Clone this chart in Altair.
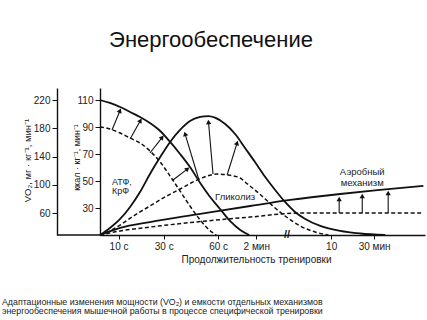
import math
import altair as alt
import pandas as pd

# ---------------- data (x: schematic time position, y: ккал·кг⁻¹·мин⁻¹) ----------------
atp_solid_x = [0, 3.1, 6.3, 9.4, 12.5, 15.6, 18.8, 21.9, 25, 28.1, 31.3, 34.4, 37.5, 40.6, 43.8, 46.6]
atp_solid_y = [110.1, 107.9, 104.9, 101.2, 97.5, 93.0, 87.1, 79.0, 70.1, 60.4, 48.6, 38.2, 29.3, 20.4, 13.7, 10]

atp_dash_x = [0, 3.1, 6.3, 9.4, 12.5, 15.6, 18.8, 21.9, 25, 28.1, 31.3, 33.8, 36.3]
atp_dash_y = [90.1, 88.6, 85.6, 81.9, 78.2, 72.3, 64.1, 53.7, 42.6, 31.5, 21.1, 14.4, 10]

gly_solid_x = [0, 3.1, 6.3, 9.4, 12.5, 15.6, 18.8, 21.9, 25, 28.1, 31.3, 33.8, 35.9, 39.1, 42.2,
               45.3, 48.4, 51.6, 54.7, 57.8, 60.9, 64.1, 68.8, 75, 81.3, 89.1]
gly_solid_y = [10, 15.2, 21.9, 30.8, 41.9, 55.2, 67.8, 79.0, 87.9, 94.5, 97.5, 98.2, 97.1, 92.3, 84.9,
               74.5, 64.1, 53.0, 43.4, 34.5, 27.1, 21.9, 16.7, 13.0, 11.1, 10]

gly_dash_x = [0, 3.1, 6.3, 10.9, 15.6, 20.3, 25, 29.7, 33.4, 36.6, 40, 43.8, 45.3, 48.4, 51.6,
              54.7, 57.8, 62.5, 67.2, 71.3]
gly_dash_y = [10, 13.0, 17.4, 24.8, 31.5, 38.2, 44.1, 50.0, 53.7, 55.2, 54.5, 52.3, 49.3, 43.4, 36.7,
              30.0, 24.1, 16.7, 12.2, 10]

aer_solid_x = [0, 6.3, 15.6, 31.3, 46.9, 59.4, 75, 87.5, 101]
aer_solid_y = [10, 15.2, 19.6, 25.6, 31.5, 36.0, 40.4, 43.4, 46.5]

aer_dash_x = [0, 6.3, 15.6, 29.7, 46.9, 62.5, 101]
aer_dash_y = [10, 13.0, 15.9, 19.6, 23.3, 26.3, 26.3]

# arrows: start (dashed curve) -> end (solid curve)
arrow_x1 = [3.75, 9.4, 15.6, 22.8, 30.9, 35.3, 39.7, 74.7, 81.9, 90.0]
arrow_y1 = [87.9, 81.2, 70.8, 50.8, 50.8, 55.2, 54.5, 26.3, 26.3, 26.3]
arrow_x2 = [6.6, 13.1, 20.0, 28.1, 26.3, 33.8, 43.1, 74.7, 81.9, 90.0]
arrow_y2 = [104.2, 96.8, 84.2, 60.4, 87.1, 96.0, 80.4, 38.9, 41.1, 43.4]

# axis ticks
x_tick_pos = [5.8, 19.9, 36.9, 48.8, 72.2, 85.6]
x_tick_labels = ["10 с", "30 с", "60 с", "2 мин", "10", "30 мин"]
kcal_ticks = [30, 50, 70, 90, 110]
vo2_ticks = [60, 100, 140, 180, 220]

# annotations
ann_text = ["АТФ,", "КрФ", "Гликолиз", "Аэробный", "механизм"]
ann_x = [3.75, 3.75, 42.2, 81.9, 81.9]
ann_y = [49.5, 42.4, 38.2, 56.7, 48.6]
ann_align = ["left", "left", "center", "center", "center"]

break_x = [58.4]

title_text = "Энергообеспечение"
footer1 = "Адаптационные изменения мощности (VO₂) и емкости отдельных механизмов"
footer2 = "энергообеспечения мышечной работы в процессе специфической тренировки"

# ---------------- layout ----------------
W, H = 325, 147
XDOM = [0, 101.5]
YDOM = [10, 119]
VO2DOM = [28.85, 237]
PXX = W / (XDOM[1] - XDOM[0])
PXY = H / (YDOM[1] - YDOM[0])
INK = "#111111"
TXT = "#222222"
FONT = "Liberation Sans"

rows = []
for name, style, xs, ys in [
    ("atp_s", "solid", atp_solid_x, atp_solid_y),
    ("atp_d", "dash", atp_dash_x, atp_dash_y),
    ("gly_s", "solid", gly_solid_x, gly_solid_y),
    ("gly_d", "dash", gly_dash_x, gly_dash_y),
    ("aer_s", "solid", aer_solid_x, aer_solid_y),
    ("aer_d", "dash", aer_dash_x, aer_dash_y),
]:
    for i, (u, v) in enumerate(zip(xs, ys)):
        rows.append({"series": name, "style": style, "i": i, "u": u, "v": v})
lines_df = pd.DataFrame(rows)

shaft_rows, head_rows = [], []
for x1, y1, x2, y2 in zip(arrow_x1, arrow_y1, arrow_x2, arrow_y2):
    dx = (x2 - x1) * PXX
    dy = (y2 - y1) * PXY
    L = math.hypot(dx, dy)
    ang = math.degrees(math.atan2(dx, dy)) % 360
    back = 3.0 / L
    hx = x2 - (x2 - x1) * back
    hy = y2 - (y2 - y1) * back
    shaft_rows.append({"u": x1, "v": y1, "u2": hx, "v2": hy})
    head_rows.append({"u": hx, "v": hy, "ang": ang})
shaft_df = pd.DataFrame(shaft_rows)
head_df = pd.DataFrame(head_rows)

ann_df = pd.DataFrame({"t": ann_text, "u": ann_x, "v": ann_y, "al": ann_align})
brk_df = pd.DataFrame({"u": break_x, "v": [YDOM[0]]})

x_enc = alt.X(
    "u:Q",
    scale=alt.Scale(domain=XDOM, nice=False, zero=False),
    axis=alt.Axis(
        values=x_tick_pos,
        labelExpr="%s[indexof(%s, datum.value)]" % (str(x_tick_labels).replace("'", '"'), str(x_tick_pos)),
        title="Продолжительность тренировки",
        titleX=156, titleY=24, titleAlign="center", titleBaseline="middle",
        titleFontSize=10, titleFontWeight="normal", titleColor=TXT, titleFont=FONT,
        labelFontSize=10, labelColor=TXT, labelFont=FONT, labelPadding=2,
        tickSize=4, tickColor=INK, domainColor=INK, domainWidth=1.4, grid=False,
        labelFlush=False, labelOverlap=False,
    ),
)
y_enc = alt.Y(
    "v:Q",
    scale=alt.Scale(domain=YDOM, nice=False, zero=False),
    axis=alt.Axis(
        orient="left", values=kcal_ticks,
        title="ккал · кг⁻¹, мин⁻¹",
        titleX=-24, titleY=69, titleAngle=270, titleAlign="center", titleBaseline="middle",
        titleFontSize=9, titleFontWeight="normal", titleColor=TXT, titleFont=FONT,
        labelFontSize=10, labelColor=TXT, labelFont=FONT, labelPadding=2,
        tickSize=5, tickColor=INK, domainColor=INK, domainWidth=1.4, grid=False,
    ),
)

solid = alt.Chart(lines_df).transform_filter(alt.datum.style == "solid").mark_line(
    color=INK, strokeWidth=1.8, interpolate="monotone"
).encode(x=x_enc, y=y_enc, detail="series:N", order="i:Q")

dashed = alt.Chart(lines_df).transform_filter(alt.datum.style == "dash").mark_line(
    color=INK, strokeWidth=1.5, strokeDash=[4, 2.5], interpolate="monotone"
).encode(x=x_enc, y=y_enc, detail="series:N", order="i:Q")

shafts = alt.Chart(shaft_df).mark_rule(color=INK, strokeWidth=1.1).encode(
    x=x_enc, y=y_enc, x2="u2:Q", y2="v2:Q"
)
heads = alt.Chart(head_df).mark_point(
    shape="triangle-up", filled=True, color=INK, size=28, opacity=1
).encode(x=x_enc, y=y_enc, angle=alt.Angle("ang:Q", scale=None))

ann_left = alt.Chart(ann_df).transform_filter(alt.datum.al == "left").mark_text(
    align="left", baseline="middle", fontSize=9, font=FONT, color=TXT
).encode(x=x_enc, y=y_enc, text="t:N")
ann_center = alt.Chart(ann_df).transform_filter(alt.datum.al == "center").mark_text(
    align="center", baseline="middle", fontSize=9.5, font=FONT, color=TXT
).encode(x=x_enc, y=y_enc, text="t:N")

brk = alt.Chart(brk_df).mark_text(
    text="//", fontSize=11, fontWeight="bold", font=FONT, color=INK, baseline="middle"
).encode(x=x_enc, y=y_enc)

one = pd.DataFrame({"k": [0]})
base_ext = alt.Chart(one).mark_rule(color=INK, strokeWidth=1.4).encode(
    x=alt.value(-43), x2=alt.value(0), y=alt.value(H)
)
title_mark = alt.Chart(one).mark_text(
    text=title_text, fontSize=22, font=FONT, color="#111111", align="center", baseline="alphabetic"
).encode(x=alt.value(111), y=alt.value(-41))
foot1 = alt.Chart(one).mark_text(
    text=footer1, fontSize=8.8, font=FONT, color="#222222", align="left", baseline="middle"
).encode(x=alt.value(-98), y=alt.value(214))
foot2 = alt.Chart(one).mark_text(
    text=footer2, fontSize=8.8, font=FONT, color="#222222", align="left", baseline="middle"
).encode(x=alt.value(-98), y=alt.value(223))

main = alt.layer(solid, dashed, shafts, heads, ann_left, ann_center, brk, base_ext,
                 title_mark, foot1, foot2)

vo2_layer = alt.Chart(pd.DataFrame({"vo2": vo2_ticks})).mark_point(opacity=0).encode(
    y=alt.Y(
        "vo2:Q",
        scale=alt.Scale(domain=VO2DOM, nice=False, zero=False),
        axis=alt.Axis(
            orient="left", offset=43, values=vo2_ticks,
            title="VO₂, мг · кг⁻¹, мин⁻¹",
            titleX=-30, titleY=72, titleAngle=270, titleAlign="center", titleBaseline="middle",
            titleFontSize=9.5, titleFontWeight="normal", titleColor=TXT, titleFont=FONT,
            labelFontSize=10, labelColor=TXT, labelFont=FONT, labelPadding=2,
            tickSize=5, tickColor=INK, domainColor=INK, domainWidth=1.4, grid=False,
        ),
    )
)

chart = alt.layer(main, vo2_layer).resolve_scale(y="independent").properties(
    width=W, height=H,
    autosize=alt.AutoSizeParams(type="none"),
    padding={"left": 100, "top": 88, "right": 2, "bottom": 85},
    background="white",
).configure_view(stroke=None)

chart.save("out.html", embed_options={"renderer": "svg", "actions": False})
